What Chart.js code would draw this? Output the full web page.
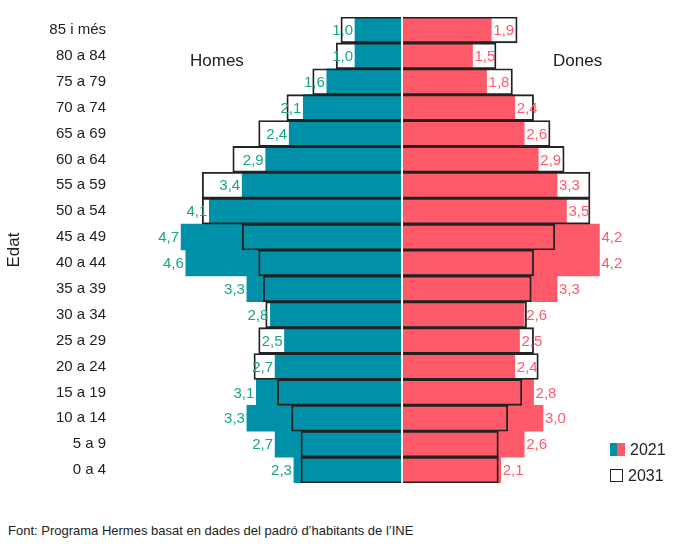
<!DOCTYPE html>
<html><head><meta charset="utf-8">
<script src="https://cdn.jsdelivr.net/npm/chart.js@4"></script>
<style>
body{margin:0;background:#fff;font-family:"Liberation Sans",Arial,sans-serif;}
#wrap{position:relative;width:695px;height:548px;}
canvas{position:absolute;left:0;top:0;}
.t{position:absolute;font-size:17px;color:#222;}
.leg{position:absolute;font-size:16px;color:#222;}
.sw{display:inline-block;width:13px;height:13px;vertical-align:-1px;margin-right:5px;box-sizing:border-box;}
</style></head><body>
<div id="wrap">
<canvas id="c" width="695" height="500"></canvas>
<div class="t" style="left:190px;top:51px;">Homes</div>
<div class="t" style="left:553px;top:51px;">Dones</div>
<div class="leg" style="left:610px;top:441px;"><span class="sw" style="width:15px;background:linear-gradient(90deg,#0090a8 50%,#ff5a6a 50%);"></span>2021</div>
<div class="leg" style="left:610px;top:467px;"><span class="sw" style="border:1px solid #222;"></span>2031</div>
<div style="position:absolute;left:8px;top:523px;font-size:13px;color:#222;">Font: Programa Hermes basat en dades del padró d’habitants de l’INE</div>
</div>
<script>
const ages=["85 i més","80 a 84","75 a 79","70 a 74","65 a 69","60 a 64","55 a 59","50 a 54","45 a 49","40 a 44","35 a 39","30 a 34","25 a 29","20 a 24","15 a 19","10 a 14","5 a 9","0 a 4"];
const men2021=[1.0,1.0,1.6,2.1,2.4,2.9,3.4,4.1,4.7,4.6,3.3,2.8,2.5,2.7,3.1,3.3,2.7,2.3];
const women2021=[1.9,1.5,1.8,2.4,2.6,2.9,3.3,3.5,4.2,4.2,3.3,2.6,2.5,2.4,2.8,3.0,2.6,2.1];
const men2031=[1.3,1.4,1.9,2.45,3.05,3.6,4.25,4.25,3.4,3.05,2.95,2.9,3.05,3.15,2.65,2.35,2.15,2.15];
const women2031=[2.45,2.0,2.35,2.8,3.15,3.45,4.0,4.0,3.25,2.8,2.75,2.65,2.8,2.9,2.55,2.25,2.05,2.05];
const TEAL="#0090a8",PINK="#ff5a6a";
const labelPlugin={id:'lbl',afterDatasetsDraw(ch){
  const ctx=ch.ctx;ctx.save();ctx.font='15px "Liberation Sans",Arial';ctx.textBaseline='middle';
  [[0,men2021,'#17a58a','right',-2],[1,women2021,PINK,'left',2]].forEach(([di,vals,col,al,off])=>{
    const meta=ch.getDatasetMeta(di);
    meta.data.forEach((b,i)=>{ctx.fillStyle=col;ctx.textAlign=al;ctx.fillText(vals[i].toFixed(1).replace('.',','),b.x+off,b.y+1);});
  });
  const xs=ch.scales.x.getPixelForValue(0);
  ctx.strokeStyle='#fff';ctx.lineWidth=2;ctx.beginPath();ctx.moveTo(xs,ch.chartArea.top);ctx.lineTo(xs,ch.chartArea.bottom);ctx.stroke();
  ctx.restore();
}};
new Chart(document.getElementById('c'),{type:'bar',
 data:{labels:ages,datasets:[
  {data:men2021.map(v=>-v),backgroundColor:TEAL,grouped:false,order:2},
  {data:women2021,backgroundColor:PINK,grouped:false,order:2},
  {data:men2031.map(v=>-v),backgroundColor:'rgba(0,0,0,0)',borderColor:'#222',borderWidth:1.2,grouped:false,order:1},
  {data:women2031,backgroundColor:'rgba(0,0,0,0)',borderColor:'#222',borderWidth:1.2,grouped:false,order:1}
 ]},
 options:{indexAxis:'y',responsive:false,animation:false,
  datasets:{bar:{barPercentage:1,categoryPercentage:1}},
  layout:{padding:{top:17,bottom:17,right:11}},
  plugins:{legend:{display:false},tooltip:{enabled:false}},
  scales:{
   x:{display:false,min:-6,max:6},
   y:{grid:{display:false},border:{display:false},
      ticks:{color:'#222',font:{size:15,family:'"Liberation Sans",Arial'},padding:6},
      title:{display:true,text:'Edat',color:'#222',font:{size:17,family:'"Liberation Sans",Arial'},padding:4},
      afterFit(s){s.width=120;}}
  }},
 plugins:[labelPlugin]});
</script>
</body></html>
